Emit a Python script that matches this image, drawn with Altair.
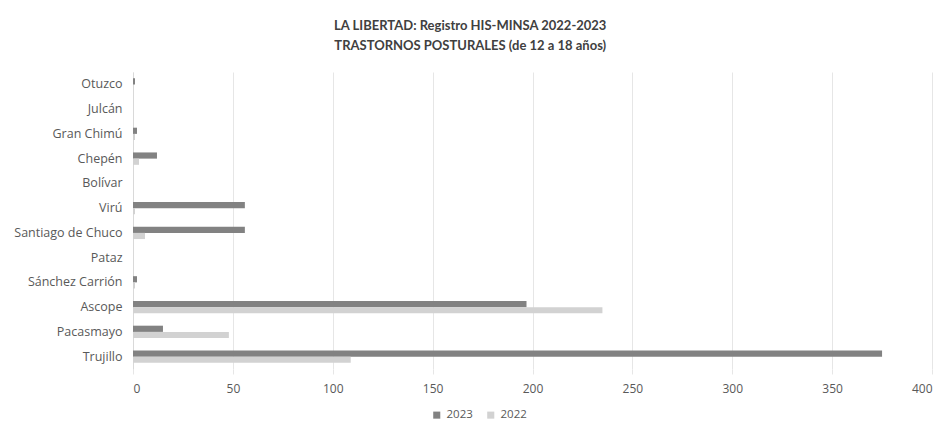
import altair as alt
import pandas as pd

categories = ["Otuzco", "Julcán", "Gran Chimú", "Chepén", "Bolívar", "Virú",
              "Santiago de Chuco", "Pataz", "Sánchez Carrión", "Ascope",
              "Pacasmayo", "Trujillo"]
series = ["2023", "2022"]
values_2023 = [1, 0, 2, 12, 0, 56, 56, 0, 2, 197, 15, 375]
values_2022 = [0, 0, 1, 3, 0, 1, 6, 0, 1, 235, 48, 109]
x_ticks = [0, 50, 100, 150, 200, 250, 300, 350, 400]

rows = []
for c, a, b in zip(categories, values_2023, values_2022):
    rows.append({"Provincia": c, "Año": "2023", "Valor": a})
    rows.append({"Provincia": c, "Año": "2022", "Valor": b})
df = pd.DataFrame(rows)

FONT = "Open Sans"
TFONT = "Lato"

bars = alt.Chart(df).mark_bar().encode(
    y=alt.Y("Provincia:N", sort=categories, title=None,
            scale=alt.Scale(paddingInner=0.5, paddingOuter=0.25),
            axis=alt.Axis(labelFontSize=12.5, labelColor="#595959", labelFont=FONT,
                          ticks=False, domain=True, domainColor="#d9d9d9",
                          labelPadding=11, minExtent=125, maxExtent=125)),
    yOffset=alt.YOffset("Año:N", sort=series, scale=alt.Scale(paddingInner=0.0)),
    x=alt.X("Valor:Q", title=None,
            scale=alt.Scale(domain=[0, 400], nice=False),
            axis=alt.Axis(values=x_ticks, labelFontSize=12, labelColor="#595959",
                          labelFont=FONT, domain=False, ticks=True, tickSize=5,
                          tickColor="#e6e6e6", gridColor="#e6e6e6",
                          labelPadding=9)),
    color=alt.Color("Año:N", sort=series,
                    scale=alt.Scale(domain=series, range=["#828282", "#d2d2d2"]),
                    legend=alt.Legend(title=None, orient="none", direction="horizontal",
                                      legendX=298, legendY=337, symbolType="square",
                                      symbolSize=50, labelFontSize=11.5,
                                      labelColor="#595959", labelFont=FONT,
                                      columnPadding=12, symbolStrokeWidth=0)),
).properties(
    width=799,
    height=297,
    title=alt.TitleParams(
        text=["LA LIBERTAD: Registro HIS-MINSA 2022-2023",
              "TRASTORNOS POSTURALES (de 12 a 18 años)"],
        fontSize=13, font=TFONT, fontWeight="bold", color="#404040",
        anchor="middle", frame="bounds", offset=19, lineHeight=20),
    padding={"left": 0, "top": 12, "right": 0, "bottom": 2},
).configure_view(stroke=None)

bars.save("out.html", embed_options={"renderer": "svg", "actions": False})
